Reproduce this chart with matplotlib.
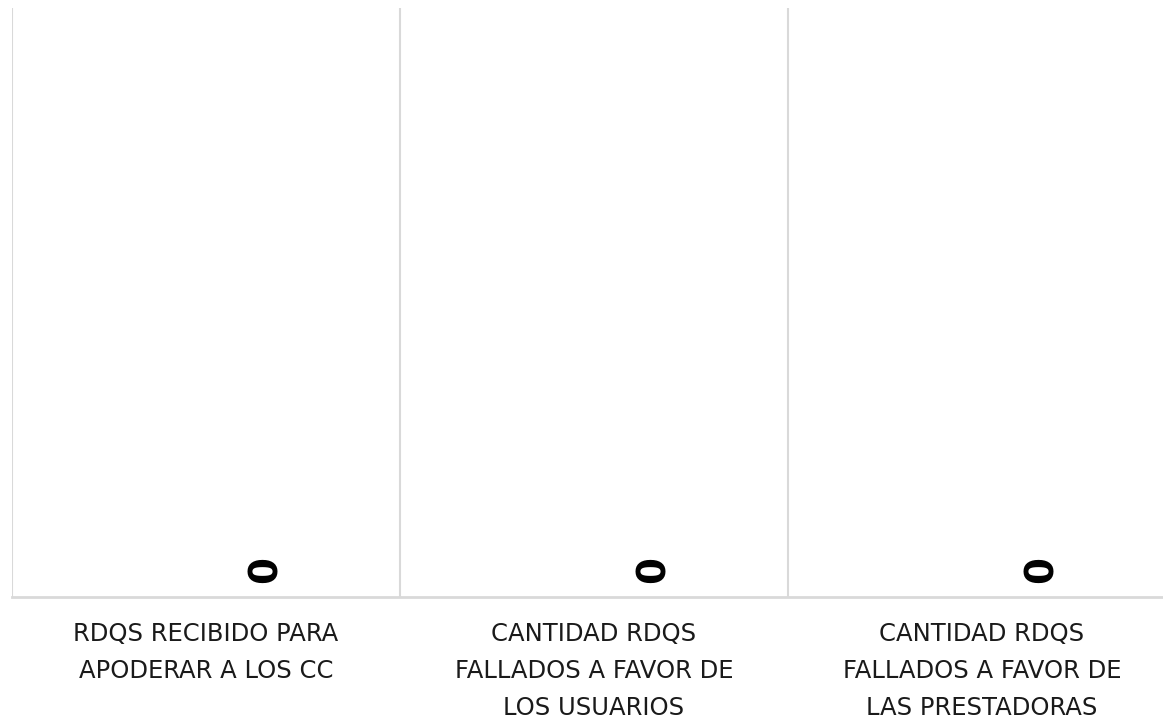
import matplotlib

matplotlib.use("Agg")
import matplotlib.pyplot as plt
import numpy as np

categories = [
    "RDQS RECIBIDO PARA\nAPODERAR A LOS CC",
    "CANTIDAD RDQS\nFALLADOS A FAVOR DE\nLOS USUARIOS",
    "CANTIDAD RDQS\nFALLADOS A FAVOR DE\nLAS PRESTADORAS",
]
values = [0, 0, 0]
value_labels = ["0", "0", "0"]

GRID = "#d9d9d9"

fig = plt.figure(figsize=(11.63, 7.2), dpi=100)
# plot area runs slightly past the right edge of the figure
ax = fig.add_axes([12 / 1163, 1 - 597 / 720, 1164 / 1163, (597 - 8) / 720])

x = np.arange(len(categories))
offset = 0.142  # the labelled series sits right of centre
bars = ax.bar(x + offset, values, width=0.25, color="#4472c4")

for rect, lab in zip(bars, value_labels):
    ax.annotate(
        lab,
        xy=(rect.get_x() + rect.get_width() / 2, rect.get_height()),
        xytext=(3, 19.5),
        textcoords="offset points",
        ha="center",
        va="center",
        rotation=90,
        fontsize=28,
        fontweight="bold",
        family="DejaVu Sans",
        color="black",
    )

# category separators
for b in np.arange(-0.5, len(categories), 1.0):
    ax.axvline(b, color=GRID, linewidth=1.5, zorder=0)

ax.set_xlim(-0.5, len(categories) - 0.5)
ax.set_ylim(0, 1)
ax.set_yticks([])
ax.set_xticks(x)
ax.set_xticklabels(categories, fontsize=17.5, color="#1a1a1a", linespacing=1.68,
                   family="DejaVu Sans")
ax.tick_params(axis="x", length=0, pad=18)

for side in ("top", "right", "left"):
    ax.spines[side].set_visible(False)
ax.spines["bottom"].set_color(GRID)
ax.spines["bottom"].set_linewidth(2)

fig.savefig("out.png", dpi=100)
